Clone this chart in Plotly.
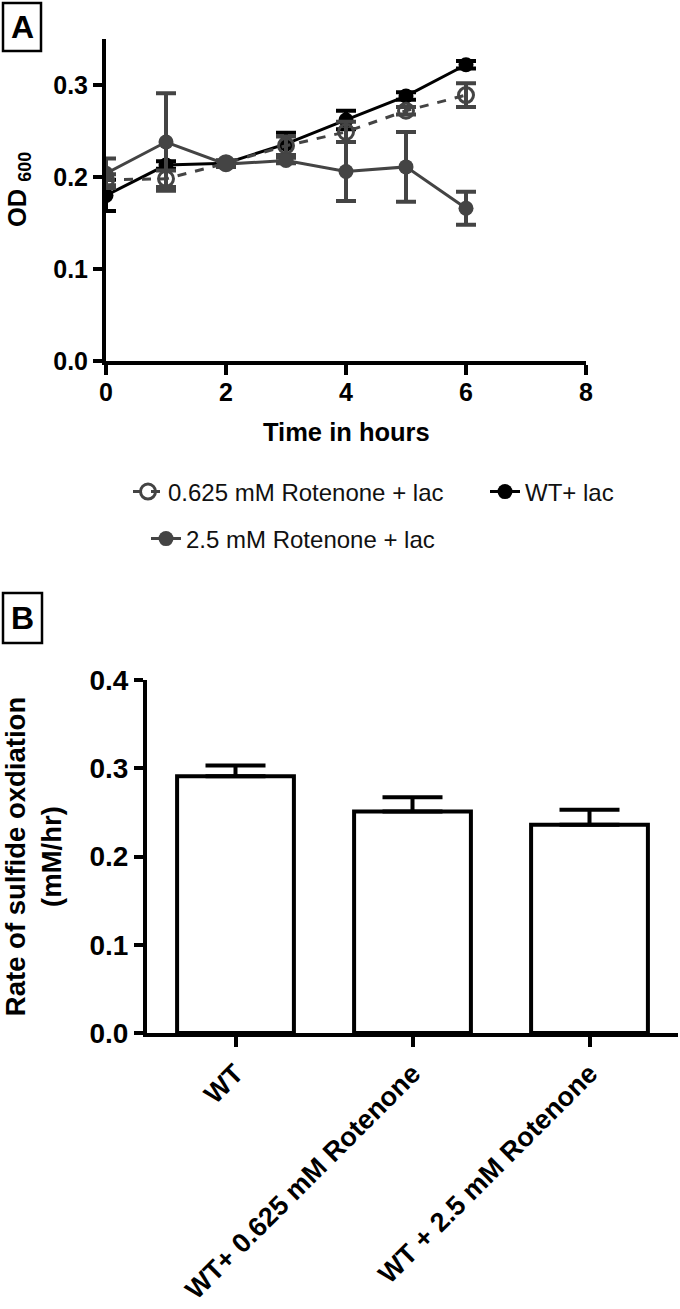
import plotly.graph_objects as go

# ---------------- Panel A data ----------------
time_h = [0, 1, 2, 3, 4, 5, 6]
wt_lac = [0.180, 0.213, 0.215, 0.236, 0.262, 0.288, 0.322]
wt_lac_err = [0.017, 0.004, 0.003, 0.012, 0.010, 0.004, 0.004]
rot0625 = [0.197, 0.198, 0.215, 0.234, 0.249, 0.272, 0.289]
rot0625_err = [0.006, 0.009, 0.003, 0.010, 0.011, 0.004, 0.013]
rot25 = [0.204, 0.238, 0.214, 0.218, 0.206, 0.211, 0.166]
rot25_err = [0.016, 0.053, 0.003, 0.003, 0.032, 0.038, 0.018]
a_xticks = [0, 2, 4, 6, 8]
a_yticks = [0.0, 0.1, 0.2, 0.3]

# ---------------- Panel B data ----------------
b_categories = ["WT", "WT+ 0.625 mM Rotenone", "WT + 2.5 mM Rotenone"]
b_rates = [0.291, 0.251, 0.236]
b_err = [0.012, 0.016, 0.017]
b_yticks = [0.0, 0.1, 0.2, 0.3, 0.4]

W, H = 680, 1309
GRAY = "#444444"
BLACK = "#000000"
FONT = "Liberation Sans"


def px(x):
    return x / W


def py(y):
    return 1 - y / H


fig = go.Figure()

fig.add_trace(go.Scatter(
    x=time_h, y=wt_lac, name="WT+ lac", legend="legend3",
    mode="lines+markers", line=dict(color=BLACK, width=3),
    marker=dict(symbol="circle", size=15, color=BLACK),
    error_y=dict(type="data", array=wt_lac_err, color=BLACK, thickness=4, width=10),
    xaxis="x", yaxis="y"))

fig.add_trace(go.Scatter(
    x=time_h, y=rot0625, name="0.625 mM Rotenone + lac", legend="legend",
    mode="lines+markers", line=dict(color=GRAY, width=3, dash="dash"),
    marker=dict(symbol="circle-open", size=15, color=GRAY, line=dict(width=3, color=GRAY)),
    error_y=dict(type="data", array=rot0625_err, color=GRAY, thickness=4, width=10),
    xaxis="x", yaxis="y"))

fig.add_trace(go.Scatter(
    x=time_h, y=rot25, name="2.5 mM Rotenone + lac", legend="legend2",
    mode="lines+markers", line=dict(color=GRAY, width=3),
    marker=dict(symbol="circle", size=15, color=GRAY),
    error_y=dict(type="data", array=rot25_err, color=GRAY, thickness=4, width=10),
    xaxis="x", yaxis="y"))

fig.add_trace(go.Bar(
    x=b_categories, y=b_rates, width=0.66,
    marker=dict(color="white", line=dict(color=BLACK, width=4)),
    error_y=dict(type="data", array=b_err, arrayminus=[0] * len(b_err), symmetric=False,
                 color=BLACK, thickness=4, width=30),
    xaxis="x2", yaxis="y2", showlegend=False))

tickfont_a = dict(family=FONT, size=25, color=BLACK, weight="bold")
titlefont_a = dict(family=FONT, size=25.5, color=BLACK, weight="bold")
tickfont_b = dict(family=FONT, size=28, color=BLACK, weight="bold")
xtickfont_b = dict(family=FONT, size=27, color=BLACK, weight="bold")
titlefont_b = dict(family=FONT, size=27.5, color=BLACK, weight="bold")
legfont = dict(family=FONT, size=24, color="#111111")

axis_common = dict(showgrid=False, zeroline=False, showline=True, linecolor=BLACK, linewidth=4,
                   ticks="outside", tickwidth=4, tickcolor=BLACK, automargin=False)

fig.update_layout(
    width=W, height=H,
    margin=dict(l=0, r=0, t=0, b=0, autoexpand=False),
    paper_bgcolor="white", plot_bgcolor="white",
    font=dict(family=FONT, color=BLACK),
    xaxis=dict(domain=[px(106), px(586)], range=[0, 8], tickvals=a_xticks,
               ticklen=10, tickfont=tickfont_a, ticklabelstandoff=-4,
               anchor="y", **axis_common),
    yaxis=dict(domain=[py(361), py(39)], range=[0, 0.35], tickvals=a_yticks,
               tickformat=".1f", ticklen=9, tickfont=tickfont_a,
               anchor="x", **axis_common),
    xaxis2=dict(domain=[px(147), px(678)], range=[-0.5, 2.5],
                ticklen=10, tickfont=xtickfont_b, tickangle=-45,
                anchor="y2", **axis_common),
    yaxis2=dict(domain=[py(1033), py(680)], range=[0, 0.4], tickvals=b_yticks,
                tickformat=".1f", ticklen=9, tickfont=tickfont_b,
                title=dict(text="Rate of sulfide oxdiation<br>(mM/hr)", font=titlefont_b, standoff=24),
                anchor="x2", **axis_common),
    legend=dict(orientation="h", x=px(128), y=py(492), xanchor="left", yanchor="middle",
                font=legfont, bgcolor="rgba(0,0,0,0)"),
    legend2=dict(orientation="h", x=px(146), y=py(539), xanchor="left", yanchor="middle",
                 font=legfont, bgcolor="rgba(0,0,0,0)"),
    legend3=dict(orientation="h", x=px(485), y=py(492), xanchor="left", yanchor="middle",
                 font=legfont, bgcolor="rgba(0,0,0,0)"),
)

# panel A axis titles
fig.add_annotation(text="Time in hours", xref="paper", yref="paper", x=px(346), y=py(432),
                   xanchor="center", yanchor="middle", showarrow=False, font=titlefont_a)
fig.add_annotation(text="OD <sub>600</sub>", xref="paper", yref="paper", x=px(19), y=py(190),
                   xanchor="center", yanchor="middle", textangle=-90, showarrow=False,
                   font=titlefont_a)

# panel label boxes
fig.add_shape(type="rect", xref="paper", yref="paper",
              x0=px(3), x1=px(41), y0=py(51), y1=py(3),
              line=dict(color=BLACK, width=2.5), fillcolor="white")
fig.add_shape(type="rect", xref="paper", yref="paper",
              x0=px(3), x1=px(42), y0=py(643), y1=py(593),
              line=dict(color=BLACK, width=2.5), fillcolor="white")
fig.add_annotation(text="A", xref="paper", yref="paper", x=px(22), y=py(27),
                   xanchor="center", yanchor="middle",
                   showarrow=False, font=dict(family=FONT, size=32, color=BLACK, weight="bold"))
fig.add_annotation(text="B", xref="paper", yref="paper", x=px(22.5), y=py(618),
                   xanchor="center", yanchor="middle",
                   showarrow=False, font=dict(family=FONT, size=32, color=BLACK, weight="bold"))

post = (
    "document.body.style.margin='0';"
    "document.body.style.padding='0';"
)

fig.write_html("out.html", config={"displayModeBar": False}, post_script=post)
